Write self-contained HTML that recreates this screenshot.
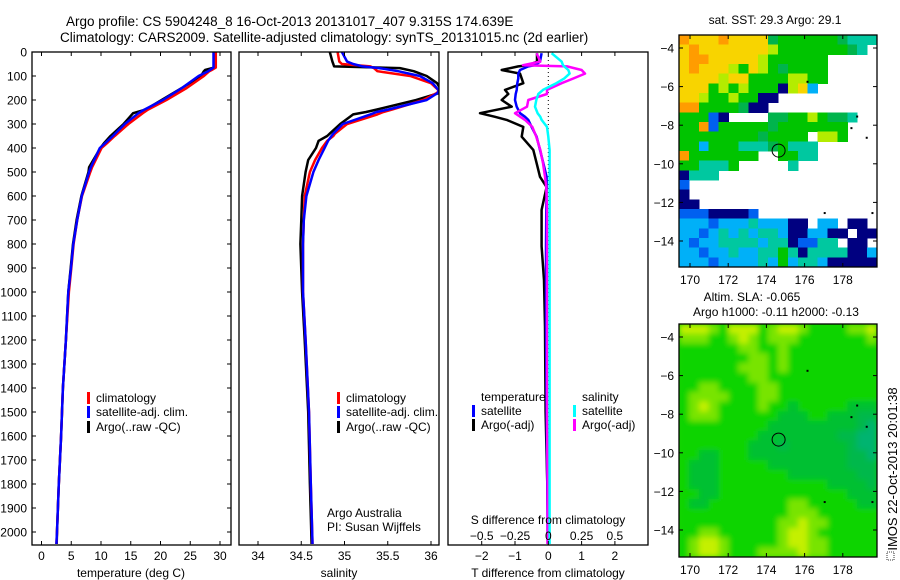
<!DOCTYPE html>
<html><head><meta charset="utf-8"><style>
html,body{margin:0;padding:0;background:#fff;}
svg{display:block;font-family:"Liberation Sans",sans-serif;}
text{fill:#000;}
</style></head><body>
<svg id="fig" width="900" height="580" viewBox="0 0 900 580">
<text x="66" y="26" font-size="13.5">Argo profile: CS 5904248_8 16-Oct-2013 20131017_407 9.315S 174.639E</text>
<text x="60" y="42" font-size="13.5">Climatology: CARS2009. Satellite-adjusted climatology: synTS_20131015.nc (2d earlier)</text>
<g id="g-maps"></g>
<g id="g-prof"></g>
<g id="g-axes"></g>
</svg>
<script>
// ---- Temperature profile data ----
const depthT = [0,65,75,80,100,150,200,240,255,300,350,380,400,480,500,600,700,800,900,1000,1200,1400,1600,1800,2000,2050];
const tempClim = [29.3,29.3,28.6,28.2,27.3,24.4,21.0,17.9,17.0,14.6,12.3,11.0,10.1,8.5,8.2,6.8,6.0,5.4,5.0,4.6,4.1,3.6,3.3,2.9,2.6,2.5];
const tempSat  = [28.9,28.9,28.3,28.0,26.4,23.6,20.4,17.3,16.3,14.0,12.0,10.7,9.8,8.3,8.0,6.75,6.0,5.35,4.96,4.5,4.1,3.6,3.3,2.9,2.6,2.5];
const tempArgo = [29.0,29.0,27.5,27.3,26.8,23.6,20.2,17.5,15.4,13.8,11.6,10.5,9.9,8.0,7.9,6.7,5.9,5.3,4.9,4.5,4.1,3.6,3.3,2.9,2.6,2.55];
// ---- Salinity profile data ----
const depthS = [0,40,50,60,67,80,100,130,160,170,200,240,250,260,300,340,350,370,400,450,500,600,700,800,1000,1200,1500,1800,2050];
const salClim = [34.92,34.94,34.97,35.3,35.34,35.38,35.76,36.0,36.09,36.07,35.91,35.55,35.45,35.38,35.03,34.89,34.87,34.80,34.74,34.66,34.60,34.54,34.53,34.52,34.52,34.55,34.59,34.61,34.63];
const salSat  = [34.97,35.03,35.10,35.21,35.40,35.62,35.87,36.02,36.09,36.08,35.95,35.50,35.37,35.30,34.98,34.87,34.85,34.81,34.77,34.70,34.64,34.56,34.53,34.52,34.52,34.55,34.59,34.61,34.63];
const salArgo = [34.83,34.86,34.87,34.88,35.64,35.80,35.95,36.07,36.12,36.10,35.83,35.37,35.25,35.10,34.95,34.83,34.80,34.70,34.67,34.58,34.55,34.51,34.50,34.49,34.51,34.54,34.58,34.60,34.62];
// ---- Difference from climatology data ----
const depthD = [5,40,55,60,75,90,110,130,158,175,200,228,255,270,283,312,353,408,463,520,563,658,810,950,1145,1500,1800,2050];
const dTArgo = [-0.34,-0.34,-0.6,-0.9,-1.4,-0.85,-0.8,-0.75,-1.3,-1.2,-1.4,-1.1,-2.05,-1.6,-1.25,-0.75,-0.8,-0.45,-0.35,-0.25,-0.05,-0.2,-0.2,-0.13,-0.1,-0.08,-0.03,0.0];
const dTSat  = [-0.2,-0.25,-0.4,-0.6,-0.85,-0.9,-0.9,-0.93,-0.95,-0.98,-1.0,-0.95,-0.85,-0.7,-0.6,-0.5,-0.35,-0.25,-0.15,-0.05,-0.05,-0.06,-0.07,-0.07,-0.07,-0.05,-0.03,-0.02];
const dSArgo = [-0.088,-0.06,-0.19,0.14,0.25,0.275,0.19,0.1,-0.01,-0.01,-0.15,-0.16,-0.25,-0.21,-0.175,-0.12,-0.09,-0.06,-0.04,-0.025,-0.015,-0.01,-0.01,-0.01,-0.01,-0.01,-0.005,-0.005];
const dSSat  = [0.025,0.1,0.11,0.12,0.15,0.16,0.12,0.06,-0.04,-0.075,-0.09,-0.1,-0.08,-0.06,-0.05,-0.01,0.0,0.01,0.01,0.01,0.01,0.01,0.01,0.01,0.01,0.01,0.01,0.01];
// ---- Axis tick labels ----
const depthTicks = [0,100,200,300,400,500,600,700,800,900,1000,1100,1200,1300,1400,1500,1600,1700,1800,1900,2000];
const tempTicks = [0,5,10,15,20,25,30];
const salTicks = [34,34.5,35,35.5,36];
const dTTicks = [-2,-1,0,1,2];
const dSTicks = [-0.5,-0.25,0,0.25,0.5];
const lonTicks = [170,172,174,176,178];
const latTicks = [-4,-6,-8,-10,-12,-14];
// ---- Map data (0.5 deg cells, north to south, west to east) ----
const sstRows = [
"oyyyoyyyyGggggggGttt",
"yoyyyyyyylgggggggGt.",
"yooyyyyylgggggg.....",
"yoyyylgylgGgggg.....",
"yyyylyyggggllgg.....",
"yyyglglgggnlyc......",
"yylgglggnn..........",
"ooggggGnn...........",
"gggbn....GGgglgGGt..",
"ggobgggggGggggggg...",
"ggggggggGgggg.llg...",
"ggcgggtttGgttt......",
"oggggggg..ggtt......",
"ggtttg.....t........",
"nttt................",
"b...................",
"n...................",
"nn..................",
"bbbnnnnb............",
"cccbccctcccnn.cc.nn.",
"ccbctctcttcnnccnn.nn",
"cbccttttcttnbbtt.nn.",
"ccbcctccttgtnttttnnc",
"cccbcccctcgcttcnnnnn"];
const sstVal = [29.3];
const slaRows = [
"YYYLgYYYgLYYLggggLLY",
"LLLggLYLgLLLgggggggL",
"ggggggLLggLggggggggg",
"gggggggLLgLggggggggg",
"ggggggLLLgLggggggggg",
"gggggggLLggggggggggg",
"ggLLggggLLgggggggggg",
"gLLLLgggLLgggggggggg",
"gLYLggggLggdgggggddd",
"gLLLggggggdddggdddDD",
"gggggggggdddddddddDT",
"ggggggggddddddddDDTT",
"gggggggdddDddddddDTT",
"ggddgggddddddddddDDT",
"gdddgggggddddddddDDD",
"gdddgggggggdddddddDD",
"gdddgggggggggggddddD",
"ggddgggggggggggggddd",
"gddggggggggLLgggggdd",
"gggggggggggLLLgggggg",
"ggggggggggLLYLLggggg",
"ggLLggggggLYYLgggggg",
"gLYYLgggggLYYLLggggg",
"gLYYLgggLLLLYLLggggg"];
const argoLon = 174.639, argoLat = -9.315;

const NS="http://www.w3.org/2000/svg";
function mk(tag, attrs, parent){const e=document.createElementNS(NS,tag);for(const k in attrs)e.setAttribute(k,attrs[k]);parent.appendChild(e);return e;}
const gM=document.getElementById('g-maps'), gP=document.getElementById('g-prof'), gA=document.getElementById('g-axes');

const PT=52, PB=545;
const yD = d => PT + d*0.24;
const xT = t => 41.5 + t*5.95;
const xS = s => 258 + (s-34)*86.5;
const xDT = v => 548.3 + v*33.3;
const xDS = v => 548.3 + v*133.3;
const panels=[{x0:32,x1:231,name:'temperature-panel'},{x0:239,x1:439,name:'salinity-panel'},{x0:448,x1:648,name:'difference-panel'}];

const defs=mk('defs',{},document.getElementById('fig'));
panels.forEach((p,i)=>{const c=mk('clipPath',{id:'cp'+i},defs);mk('rect',{x:p.x0,y:PT,width:p.x1-p.x0,height:PB-PT},c);});
[[35,267],[324,557]].forEach((r,i)=>{const c=mk('clipPath',{id:'cm'+i},defs);mk('rect',{x:679,y:r[0],width:198,height:r[1]-r[0]},c);});
const blur=mk('filter',{id:'bl',x:'-10%',y:'-10%',width:'120%',height:'120%'},defs);
mk('feGaussianBlur',{stdDeviation:'3'},blur);

function line(depths, vals, xf, color, w, name, clip){
  const pts=depths.map((d,i)=>xf(vals[i]).toFixed(1)+','+yD(d).toFixed(1)).join(' ');
  const el=mk('polyline',{points:pts,fill:'none',stroke:color,'stroke-width':w,'stroke-linejoin':'round','clip-path':'url(#'+clip+')'},gP);
  
  
}
line(depthT,tempArgo,xT,'#000',2.5,'temp-argo-line','cp0');
line(depthT,tempClim,xT,'#f00',2.5,'temp-climatology-line','cp0');
line(depthT,tempSat,xT,'#00f',2.5,'temp-satellite-line','cp0');
line(depthS,salArgo,xS,'#000',2.5,'sal-argo-line','cp1');
line(depthS,salClim,xS,'#f00',2.5,'sal-climatology-line','cp1');
line(depthS,salSat,xS,'#00f',2.5,'sal-satellite-line','cp1');
{const z=mk('line',{x1:xDT(0),x2:xDT(0),y1:PT,y2:PB,stroke:'#000','stroke-width':1,'stroke-dasharray':'1,3'},gP);

}
line(depthD,dTArgo,xDT,'#000',2.5,'dT-argo-line','cp2');
line(depthD,dTSat,xDT,'#00f',2.5,'dT-satellite-line','cp2');
line(depthD,dSArgo,xDS,'#f0f',2.5,'dS-argo-line','cp2');
line(depthD,dSSat,xDS,'#0ff',2.5,'dS-satellite-line','cp2');

function txt(x,y,s,size,anchor,name,parent){const t=mk('text',{x:x,y:y,'font-size':size,'text-anchor':anchor||'start'},parent||gA);t.textContent=s;


return t;}

panels.forEach((p,i)=>{
  const r=mk('rect',{x:p.x0,y:PT,width:p.x1-p.x0,height:PB-PT,fill:'none',stroke:'#000','stroke-width':1.3},gA);
  
  
});
depthTicks.forEach(d=>{
  const y=yD(d);
  mk('line',{x1:32,x2:36,y1:y,y2:y,stroke:'#000'},gA);
  mk('line',{x1:227,x2:231,y1:y,y2:y,stroke:'#000'},gA);
  txt(27,y+4.5,String(d),12,'end','depth-tick-label');
});
function xticks(vals,f,labelY,fmt){vals.forEach(v=>{const x=f(v);
  mk('line',{x1:x,x2:x,y1:PT,y2:PT+4,stroke:'#000'},gA);
  mk('line',{x1:x,x2:x,y1:PB,y2:PB-4,stroke:'#000'},gA);
  if(labelY) txt(x,labelY,fmt(v),12,'middle','x-tick-label');});}
xticks(tempTicks,xT,560,v=>String(v));
xticks(salTicks,xS,560,v=>String(v));
xticks(dTTicks,xDT,560,v=>v<0?'\u2212'+(-v):String(v));
dSTicks.forEach((v,i)=>{txt(xDT(dTTicks[i]),540,v<0?'\u2212'+(-v):String(v),12,'middle','s-diff-tick-label');});
txt(131,577,'temperature (deg C)',12,'middle','temperature-axis-title');
txt(339,577,'salinity',12,'middle','salinity-axis-title');
txt(548,577,'T difference from climatology',12,'middle','t-diff-axis-title');
txt(548,524,'S difference from climatology',12,'middle','s-diff-axis-title');

function leg(x,y,color,label){const b=mk('rect',{x:x,y:y-10,width:3,height:12,fill:color},gA);
  
  
  txt(x+9,y,label,12,'start','legend-entry');}
leg(87,402,'#f00','climatology');leg(87,416,'#00f','satellite-adj. clim.');leg(87,431,'#000','Argo(..raw -QC)');
leg(337,402,'#f00','climatology');leg(337,416,'#00f','satellite-adj. clim.');leg(337,431,'#000','Argo(..raw -QC)');
txt(481,401,'temperature',12,'start','legend-temperature-header');
txt(582,401,'salinity',12,'start','legend-salinity-header');
leg(472,415,'#00f','satellite');leg(472,429,'#000','Argo(-adj)');
leg(573,415,'#0ff','satellite');leg(573,429,'#f0f','Argo(-adj)');
txt(327,517,'Argo Australia',12,'start','credit-argo-australia');
txt(327,531,'PI: Susan Wijffels',12,'start','credit-pi');

const sstCol={o:'#ff9c00',y:'#f8d400',l:'#b4ec00',g:'#00c400',G:'#00b44c',t:'#00c8a0',c:'#00b0f8',b:'#0060f0',n:'#000080'};
const slaCol={Y:'#c4f000',L:'#78e400',g:'#10d400',d:'#00c030',D:'#00b84c',T:'#00b470'};
const lonX=lon=>690+(lon-170)*19.1;
function drawMap(rows,cols,top,bottom,clip,name,blurred){
  const g=mk('g',{'clip-path':'url(#'+clip+')'},gM);
  
  
  mk('rect',{x:679,y:top,width:198,height:bottom-top,fill:blurred?cols.g:'#fff'},g);
  const inner=blurred?mk('g',{filter:'url(#bl)'},g):g;
  const ch=(bottom-top)/rows.length, cw=198/20;
  rows.forEach((row,r)=>{for(let c=0;c<row.length;c++){const k=row[c];if(!cols[k])continue;
    const cell=mk('rect',{x:(679+c*cw).toFixed(2),y:(top+r*ch).toFixed(2),width:(cw+0.5).toFixed(2),height:(ch+0.5).toFixed(2),fill:cols[k],'shape-rendering':'crispEdges'},inner);
    
    }});
  const latY=lat=>top+13+(-4-lat)*19.3;
  const circ=mk('circle',{cx:lonX(argoLon),cy:latY(argoLat),r:6.5,fill:'none',stroke:'#000','stroke-width':1},g);
  
  
  [[176.1,-5.7],[178.4,-8.1],[179.2,-8.6],[177.0,-12.5],[179.5,-12.5],[178.7,-7.5]].forEach(p=>mk('rect',{x:lonX(p[0]),y:latY(p[1]),width:2,height:2,fill:'#000'},g));
  const fr=mk('rect',{x:679,y:top,width:198,height:bottom-top,fill:'none',stroke:'#000','stroke-width':1.3},gM);
  
  
  lonTicks.forEach(l=>{const x=lonX(l);mk('line',{x1:x,x2:x,y1:top,y2:top+4,stroke:'#000'},gM);mk('line',{x1:x,x2:x,y1:bottom,y2:bottom-4,stroke:'#000'},gM);
    txt(x,bottom+17,String(l),12,'middle','lon-tick-label',gM);});
  latTicks.forEach(l=>{const y=latY(l);mk('line',{x1:679,x2:683,y1:y,y2:y,stroke:'#000'},gM);mk('line',{x1:873,x2:877,y1:y,y2:y,stroke:'#000'},gM);
    txt(674,y+4.5,'\u2212'+(-l),12,'end','lat-tick-label',gM);});
}
drawMap(sstRows,sstCol,35,267,'cm0','sst-map',false);
drawMap(slaRows,slaCol,324,557,'cm1','sla-map',true);
txt(775,24,'sat. SST: '+sstVal[0]+' Argo: 29.1',12,'middle','sst-map-title',gM);
txt(752,301,'Altim. SLA: -0.065',12,'middle','sla-map-title',gM);
txt(776,316,'Argo h1000: -0.11 h2000: -0.13',12,'middle','sla-map-subtitle',gM);
{const t=txt(0,0,'IMOS 22-Oct-2013 20:01:38',13,'middle','imos-timestamp',gM);t.setAttribute('transform','translate(897,469) rotate(-90)');
 const b=mk('rect',{x:887,y:552,width:7,height:8,fill:'none',stroke:'#000','stroke-width':0.8,'stroke-dasharray':'1,1'},gM);
 
 }
</script>
</body></html>
